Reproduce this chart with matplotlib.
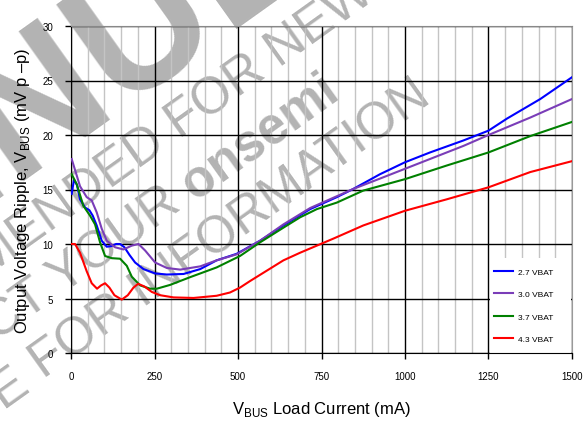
import matplotlib
matplotlib.use("Agg")
import matplotlib.pyplot as plt
from matplotlib.patches import Rectangle
import numpy as np

plt.rcParams['font.family'] = ['Liberation Sans', 'DejaVu Sans']
plt.rcParams['mathtext.fontset'] = 'custom'
plt.rcParams['mathtext.rm'] = 'Liberation Sans'

# ripple vs load current, one curve per battery voltage
i_27 = [2, 9, 18, 27, 42, 55, 65, 77, 92, 107, 120, 135, 147, 160, 175, 192, 217, 252, 287, 337,
        387, 436, 496, 566, 636, 716, 796, 845, 925, 1000, 1075, 1175, 1250, 1305, 1405, 1500]
v_27 = [14.6, 15.9, 15.4, 14.1, 13.35, 13.1, 12.6, 11.7, 10.3, 9.75, 9.8, 10.0, 10.0, 9.7, 9.0, 8.3, 7.7, 7.3, 7.2, 7.25,
        7.7, 8.5, 9.1, 10.3, 11.7, 13.2, 14.3, 15.05, 16.4, 17.5, 18.4, 19.5, 20.4, 21.5, 23.3, 25.3]

i_30 = [2, 10, 27, 47, 62, 77, 92, 107, 132, 157, 182, 202, 222, 252, 287, 327, 387, 436, 496, 566,
        636, 716, 775, 845, 925, 1000, 1075, 1175, 1250, 1375, 1500]
v_30 = [17.8, 17.0, 15.3, 14.3, 14.0, 12.9, 11.4, 10.3, 9.7, 9.5, 9.85, 10.0, 9.4, 8.3, 7.8, 7.65, 7.95, 8.5, 9.05, 10.3,
        11.8, 13.3, 14.1, 15.05, 16.0, 16.9, 17.8, 19.0, 20.0, 21.6, 23.3]

i_37 = [2, 17, 37, 57, 72, 87, 102, 122, 147, 167, 182, 207, 237, 257, 297, 356, 436, 506, 566, 636,
        686, 736, 796, 875, 1000, 1125, 1250, 1375, 1500]
v_37 = [16.4, 15.5, 13.5, 12.6, 11.8, 10.15, 8.9, 8.7, 8.65, 8.0, 7.0, 6.2, 5.9, 5.9, 6.25, 6.95, 7.85, 8.9, 10.15, 11.5,
        12.45, 13.2, 13.8, 14.9, 15.95, 17.2, 18.4, 19.9, 21.2]

i_43 = [0, 12, 27, 47, 62, 78, 90, 102, 115, 130, 152, 170, 187, 201, 220, 242, 267, 307, 367, 436,
        476, 506, 536, 586, 636, 686, 736, 786, 875, 1000, 1125, 1250, 1375, 1500]
v_43 = [10.0, 10.0, 9.2, 7.5, 6.4, 5.9, 6.2, 6.4, 6.0, 5.3, 4.9, 5.3, 6.0, 6.35, 6.1, 5.6, 5.3, 5.1, 5.05, 5.25,
        5.55, 6.0, 6.6, 7.55, 8.5, 9.2, 9.85, 10.5, 11.7, 13.05, 14.1, 15.2, 16.6, 17.6]

labels = ['2.7 VBAT', '3.0 VBAT', '3.7 VBAT', '4.3 VBAT']
colors = ['#0000ff', '#7a3db8', '#008000', '#ff0000']

W, H = 588, 427
fig = plt.figure(figsize=(W / 100, H / 100), dpi=100, facecolor='white')
ax = fig.add_axes([71 / W, 1 - 354 / H, 501 / W, 327 / H])
ax.set_facecolor('none')

# grey "discontinued" stamp behind the axes, placed by baseline points in pixels
wm = '#b3b3b3'
ang = 35.5
def stamp(s, x, y, size, weight='normal', ha='left'):
    fig.text(x / W, 1 - y / H, s, rotation=ang, rotation_mode='anchor', ha=ha, va='baseline',
             fontsize=size, fontweight=weight, color=wm, zorder=-1)

stamp('DISCONTINU', 225, 29, 130, 'bold', ha='right')
stamp('ED', 225, 29, 130, 'bold')
stamp('NOT RECOMMENDED', 168, 148, 37, ha='right')
stamp('FOR NEW DESIGN', 180, 140, 37)
stamp('PLEASE CONTACT YOUR', 183, 209, 37, ha='right')
stamp('onsemi', 195, 201, 37, 'bold')
stamp('REPRESENTATIVE', 32, 388, 37, ha='right')
stamp('FOR INFORMATION', 44, 380, 37)

for x, y, c, lab in zip([i_27, i_30, i_37, i_43], [v_27, v_30, v_37, v_43], colors, labels):
    ax.plot(x, y, color=c, lw=1.5, label=lab, zorder=3)

ax.set_xlim(0, 1500)
ax.set_ylim(0, 30)
ax.set_xticks(range(0, 1501, 250))
ax.set_xticks(range(0, 1501, 50), minor=True)
ax.set_yticks(range(0, 31, 5))
ax.grid(which='major', color='black', lw=1.0)
ax.grid(which='minor', axis='x', color='#c4c4c4', lw=1.0)
ax.tick_params(which='major', length=4, width=1, pad=9, labelsize=7, color='black')
ax.tick_params(which='minor', length=0)
for s in ['left', 'bottom']:
    ax.spines[s].set_color('black')
ax.spines['top'].set_color('#888888')
ax.spines['right'].set_color('#999999')

# white patch under the legend hides the grid there
ax.add_patch(Rectangle((0.836, 0.0), 0.162, 0.29, transform=ax.transAxes,
                       facecolor='white', edgecolor='none', zorder=2.5))
ax.legend(loc='lower left', bbox_to_anchor=(0.836, 0.018), frameon=False, fontsize=6,
          handlelength=2.3, handletextpad=0.6, labelspacing=1.75, borderpad=0.5, borderaxespad=0)

ax.set_xlabel('V$_{\\mathrm{BUS}}$ Load Current (mA)', fontsize=12, labelpad=13)
ax.set_ylabel('Output Voltage Ripple, V$_{\\mathrm{BUS}}$ (mV p \u2013p)', fontsize=12, labelpad=7)

fig.savefig('out.png', dpi=100, facecolor='white')
